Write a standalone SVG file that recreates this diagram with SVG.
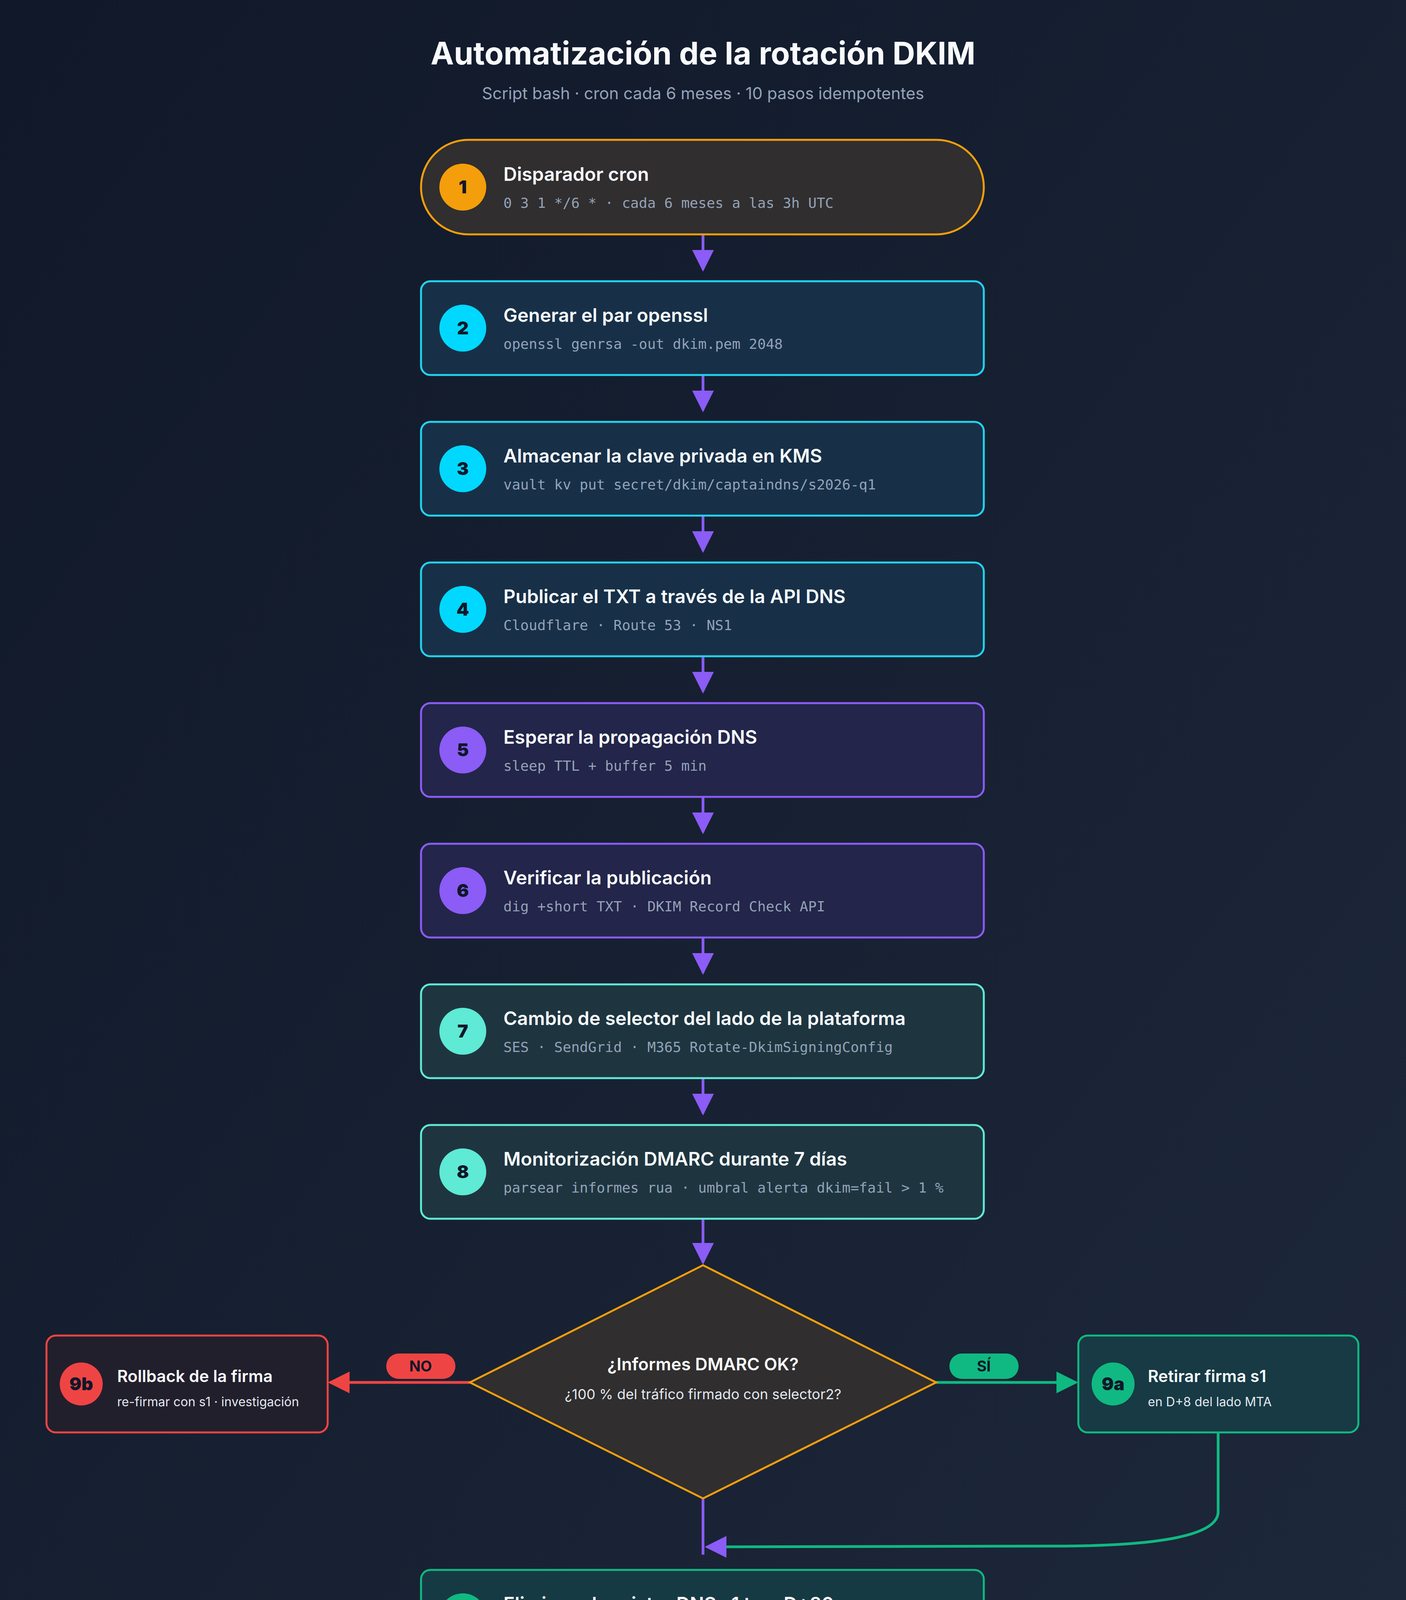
<svg xmlns="http://www.w3.org/2000/svg" width="3600" height="4800" viewBox="0 0 3600 4800">
<defs>
<linearGradient id="bg" x1="0" y1="0" x2="1" y2="1"><stop offset="0" stop-color="#101829"/><stop offset="1" stop-color="#1e293b"/></linearGradient>
<marker id="ap" viewBox="0 0 10 10" refX="9" refY="5" markerWidth="8" markerHeight="8" orient="auto" markerUnits="strokeWidth"><path d="M0,0 L10,5 L0,10 z" fill="#8b5cf6"/></marker>
<marker id="ar" viewBox="0 0 10 10" refX="9" refY="5" markerWidth="8" markerHeight="8" orient="auto" markerUnits="strokeWidth"><path d="M0,0 L10,5 L0,10 z" fill="#ef4444"/></marker>
<marker id="ag" viewBox="0 0 10 10" refX="9" refY="5" markerWidth="8" markerHeight="8" orient="auto" markerUnits="strokeWidth"><path d="M0,0 L10,5 L0,10 z" fill="#10b981"/></marker>
</defs>
<style>
text{font-family:Inter,"Liberation Sans",sans-serif}
.t{font-size:48px;font-weight:600;fill:#f8fafc}
.m{font-family:"DejaVu Sans Mono","Liberation Mono",monospace;font-size:36px;fill:#94a3b8}
.n{font-size:46px;font-weight:900;fill:#0f172a;text-anchor:middle}
.st{font-size:42px;font-weight:600;fill:#f8fafc}
.ss{font-size:32px;fill:#e2e8f0}
.cy{fill:#173048;stroke:#22d3ee;stroke-width:5}
.pu{fill:#23254a;stroke:#8b5cf6;stroke-width:5}
.te{fill:#1e3540;stroke:#5eead4;stroke-width:5}
.c path,.c line{fill:none;stroke:#8b5cf6;stroke-width:7}
</style>
<rect width="3600" height="4800" fill="url(#bg)"/>
<text x="1800" y="165" text-anchor="middle" font-size="80" font-weight="700" fill="#f8fafc">Automatización de la rotación DKIM</text>
<text x="1800" y="254" text-anchor="middle" font-size="42" fill="#94a3b8">Script bash · cron cada 6 meses · 10 pasos idempotentes</text>

<g class="c">
<line x1="1800" y1="600" x2="1800" y2="690" marker-end="url(#ap)"/>
<line x1="1800" y1="960" x2="1800" y2="1050" marker-end="url(#ap)"/>
<line x1="1800" y1="1320" x2="1800" y2="1410" marker-end="url(#ap)"/>
<line x1="1800" y1="1680" x2="1800" y2="1770" marker-end="url(#ap)"/>
<line x1="1800" y1="2040" x2="1800" y2="2130" marker-end="url(#ap)"/>
<line x1="1800" y1="2400" x2="1800" y2="2490" marker-end="url(#ap)"/>
<line x1="1800" y1="2760" x2="1800" y2="2850" marker-end="url(#ap)"/>
<line x1="1800" y1="3120" x2="1800" y2="3232" marker-end="url(#ap)"/>
<line x1="1800" y1="3836" x2="1800" y2="3980"/>
<line x1="1800" y1="4258" x2="1800" y2="4350" marker-end="url(#ap)"/>
<line x1="1203" y1="3539" x2="845" y2="3539" style="stroke:#ef4444" marker-end="url(#ar)"/>
<line x1="2397" y1="3539" x2="2755" y2="3539" style="stroke:#10b981" marker-end="url(#ag)"/>
<path d="M3119,3667 V3870 Q3119,3958 2700,3958 L1810,3960" style="stroke:#10b981" marker-end="url(#ap)"/>
</g>

<g id="n1"><rect x="1078" y="358" width="1441" height="242" rx="121" fill="#302e2f" stroke="#f59e0b" stroke-width="5"/><circle cx="1185" cy="479" r="60" fill="#f59e0b"/><text class="n" x="1185" y="495">1</text><text class="t" x="1289" y="463">Disparador cron</text><text class="m" x="1289" y="532">0 3 1 */6 * · cada 6 meses a las 3h UTC</text></g>
<g id="n2"><rect class="cy" x="1078" y="720" width="1441" height="240" rx="24"/><circle cx="1185" cy="840" r="60" fill="#00d8ff"/><text class="n" x="1185" y="856">2</text><text class="t" x="1289" y="824">Generar el par openssl</text><text class="m" x="1289" y="893">openssl genrsa -out dkim.pem 2048</text></g>
<g id="n3"><rect class="cy" x="1078" y="1080" width="1441" height="240" rx="24"/><circle cx="1185" cy="1200" r="60" fill="#00d8ff"/><text class="n" x="1185" y="1216">3</text><text class="t" x="1289" y="1184">Almacenar la clave privada en KMS</text><text class="m" x="1289" y="1253">vault kv put secret/dkim/captaindns/s2026-q1</text></g>
<g id="n4"><rect class="cy" x="1078" y="1440" width="1441" height="240" rx="24"/><circle cx="1185" cy="1560" r="60" fill="#00d8ff"/><text class="n" x="1185" y="1576">4</text><text class="t" x="1289" y="1544">Publicar el TXT a través de la API DNS</text><text class="m" x="1289" y="1613">Cloudflare · Route 53 · NS1</text></g>
<g id="n5"><rect class="pu" x="1078" y="1800" width="1441" height="240" rx="24"/><circle cx="1185" cy="1920" r="60" fill="#8b5cf6"/><text class="n" x="1185" y="1936">5</text><text class="t" x="1289" y="1904">Esperar la propagación DNS</text><text class="m" x="1289" y="1973">sleep TTL + buffer 5 min</text></g>
<g id="n6"><rect class="pu" x="1078" y="2160" width="1441" height="240" rx="24"/><circle cx="1185" cy="2280" r="60" fill="#8b5cf6"/><text class="n" x="1185" y="2296">6</text><text class="t" x="1289" y="2264">Verificar la publicación</text><text class="m" x="1289" y="2333">dig +short TXT · DKIM Record Check API</text></g>
<g id="n7"><rect class="te" x="1078" y="2520" width="1441" height="240" rx="24"/><circle cx="1185" cy="2640" r="60" fill="#5eead4"/><text class="n" x="1185" y="2656">7</text><text class="t" x="1289" y="2624">Cambio de selector del lado de la plataforma</text><text class="m" x="1289" y="2693">SES · SendGrid · M365 Rotate-DkimSigningConfig</text></g>
<g id="n8"><rect class="te" x="1078" y="2880" width="1441" height="240" rx="24"/><circle cx="1185" cy="3000" r="60" fill="#5eead4"/><text class="n" x="1185" y="3016">8</text><text class="t" x="1289" y="2984">Monitorización DMARC durante 7 días</text><text class="m" x="1289" y="3053">parsear informes rua · umbral alerta dkim=fail &gt; 1 %</text></g>

<g id="d9"><polygon points="1800,3239 2397,3539 1800,3836 1203,3539" fill="#302e2f" stroke="#f59e0b" stroke-width="5"/><text x="1800" y="3508" text-anchor="middle" font-size="44" font-weight="600" fill="#f8fafc">¿Informes DMARC OK?</text><text x="1800" y="3582" text-anchor="middle" font-size="36" fill="#e2e8f0">¿100 % del tráfico firmado con selector2?</text></g>

<g id="lno"><rect x="989" y="3465" width="177" height="65" rx="32" fill="#ef4444"/><text x="1077" y="3511" text-anchor="middle" font-size="38" font-weight="700" fill="#0f172a">NO</text></g>
<g id="lsi"><rect x="2431" y="3465" width="177" height="65" rx="32" fill="#10b981"/><text x="2519" y="3511" text-anchor="middle" font-size="38" font-weight="700" fill="#0f172a">SÍ</text></g>

<g id="n9b"><rect x="119" y="3419" width="720" height="248" rx="24" fill="#221f2c" stroke="#ef4444" stroke-width="5"/><circle cx="208" cy="3543" r="55" fill="#ef4444"/><text class="n" x="208" y="3559">9b</text><text class="st" x="300" y="3538">Rollback de la firma</text><text class="ss" x="300" y="3600">re-firmar con s1 · investigación</text></g>
<g id="n9a"><rect x="2761" y="3419" width="717" height="248" rx="24" fill="#173a45" stroke="#10b981" stroke-width="5"/><circle cx="2850" cy="3543" r="55" fill="#10b981"/><text class="n" x="2850" y="3559">9a</text><text class="st" x="2939" y="3538">Retirar firma s1</text><text class="ss" x="2939" y="3600">en D+8 del lado MTA</text></g>

<g id="n10"><rect x="1078" y="4019" width="1441" height="240" rx="24" fill="#163a44" stroke="#10b981" stroke-width="5"/><circle cx="1185" cy="4139" r="60" fill="#10b981"/><text class="n" x="1185" y="4155">10</text><text class="t" x="1289" y="4123">Eliminar el registro DNS s1 tras D+30</text><text class="m" x="1289" y="4192">limpieza TXT s2025-q4 · destruir la clave privada KMS</text></g>
<g id="end"><rect x="1350" y="4381" width="900" height="177" rx="88" fill="#1f3d48" stroke="#5eead4" stroke-width="5"/><text x="1800" y="4488" text-anchor="middle" font-size="48" font-weight="600" fill="#f8fafc">Rotación completada</text></g>
<text x="1800" y="4700" text-anchor="middle" font-size="40" font-weight="600" fill="#3b475c">CaptainDNS · DKIM rotation automation flowchart</text>
</svg>
